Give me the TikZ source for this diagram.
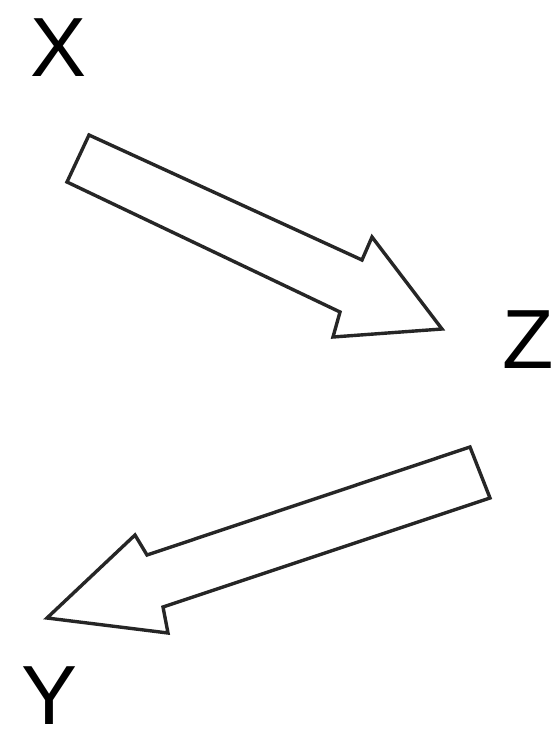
\documentclass[tikz,border=0pt]{standalone}
\usepackage{fontspec}
\setmainfont{Liberation Sans}
\tikzset{
    letter/.style={font=\fontsize{84}{84}\selectfont, inner sep=0pt},
    blockarrow/.style={draw=black!85, line width=3.4pt, line join=miter, fill=white},
}

\begin{document}
\begin{tikzpicture}[x=1pt,y=-1pt]
    \useasboundingbox (0,0) rectangle (559,743);
    \node[letter] (X) at (59,48) {X};
    \node[letter] (Z) at (528,340) {Z};
    \node[letter] (Y) at (50,696) {Y};
    % X to Z
    \draw[blockarrow] (89,135) -- (362,260) -- (372,237) -- (442,329)
        -- (333,337) -- (340,312) -- (67,182) -- cycle;
    % Z to Y
    \draw[blockarrow] (470,447) -- (147,555) -- (135,535) -- (47,618)
        -- (168,633) -- (163,607) -- (490,498) -- cycle;
\end{tikzpicture}
\end{document}
